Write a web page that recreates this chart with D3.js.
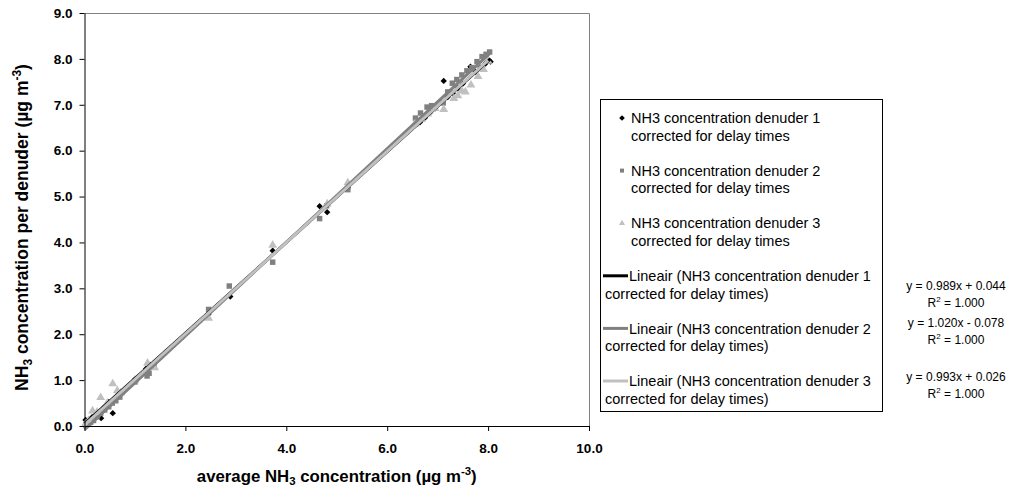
<!DOCTYPE html>
<html>
<head>
<meta charset="utf-8">
<script src="https://cdn.jsdelivr.net/npm/d3@7"></script>
<style>
  html, body { margin: 0; padding: 0; background: #fff; }
  svg { display: block; font-family: Arial, "Liberation Sans", sans-serif; }
</style>
</head>
<body>
<svg id="chart" width="1023" height="488"></svg>
<script>
// Denuder 1 (black diamonds)
const d1X = [0.02,0.05,0.10,0.15,0.22,0.33,0.40,0.48,0.56,0.65,0.72,
             1.00,1.22,1.30,2.46,2.89,3.73,4.66,4.81,5.22,
             6.55,6.65,6.75,6.85,6.95,7.12,7.20,7.30,7.40,7.50,7.65,7.75,7.85,7.95,8.05];
const d1Y = [0.13,0.10,0.12,0.19,0.25,0.17,0.42,0.52,0.28,0.66,0.70,
             1.02,1.25,1.33,2.44,2.82,3.82,4.79,4.66,5.19,
             6.55,6.62,6.72,6.83,6.92,7.52,7.17,7.25,7.36,7.46,7.83,7.72,7.81,7.90,7.94];

// Denuder 2 (grey squares)
const d2X = [0.03,0.08,0.12,0.18,0.25,0.32,0.40,0.48,0.55,0.62,0.70,
             1.00,1.24,1.28,1.38,2.46,2.87,3.73,4.66,4.80,5.22,
             6.56,6.66,6.79,6.88,7.11,7.20,7.29,7.38,7.48,7.58,7.68,7.78,7.88,7.96,8.03];
const d2Y = [0.02,0.05,0.08,0.12,0.20,0.28,0.35,0.42,0.50,0.55,0.63,
             0.96,1.09,1.15,1.30,2.54,3.05,3.57,4.52,4.80,5.15,
             6.71,6.82,6.95,6.98,7.04,7.28,7.47,7.55,7.65,7.74,7.81,7.94,8.05,8.10,8.15];

// Denuder 3 (light grey triangles)
const d3X = [0.02,0.08,0.16,0.25,0.32,0.45,0.56,0.65,0.72,
             1.00,1.25,1.39,2.46,3.73,4.81,5.22,
             6.55,6.68,6.80,6.95,7.12,7.32,7.40,7.48,7.55,7.66,7.80,7.91,8.00];
const d3Y = [0.05,0.12,0.33,0.30,0.62,0.50,0.92,0.77,0.72,
             1.00,1.37,1.27,2.35,3.94,4.84,5.30,
             6.58,6.68,6.80,6.92,6.90,7.14,7.20,7.30,7.28,7.43,7.62,7.77,7.95];

// Linear trendline coefficients (slope, intercept)
const slopes = [0.989, 1.020, 0.993];
const intercepts = [0.044, -0.078, 0.026];
const rSquared = ["1.000", "1.000", "1.000"];

const seriesNames = [
  ["NH3 concentration denuder 1", "corrected for delay times"],
  ["NH3 concentration denuder 2", "corrected for delay times"],
  ["NH3 concentration denuder 3", "corrected for delay times"]
];
const trendNames = [
  ["Lineair (NH3 concentration denuder 1", "corrected for delay times)"],
  ["Lineair (NH3 concentration denuder 2", "corrected for delay times)"],
  ["Lineair (NH3 concentration denuder 3", "corrected for delay times)"]
];
const xTicks = [0, 2, 4, 6, 8, 10];
const yTicks = [0, 1, 2, 3, 4, 5, 6, 7, 8, 9];

const colors = ["#000000", "#808080", "#c0c0c0"];
const shapes = [d3.symbolSquare, d3.symbolSquare, d3.symbolTriangle];
const rotations = [45, 0, 0];
const symbolSizes = [20, 30, 34];

const svg = d3.select("#chart");
const plotL = 84.5, plotR = 589, plotT = 13, plotB = 426;

const x = d3.scaleLinear().domain([0, 10]).range([plotL, plotR]);
const y = d3.scaleLinear().domain([0, 9]).range([plotB, plotT]);

// Plot frame: top and right edges in grey
svg.append("path")
  .attr("d", `M${plotL},${plotT + 0.5}H${plotR + 0.5}V${plotB}`)
  .attr("fill", "none").attr("stroke", "#808080").attr("stroke-width", 1);

// Markers
const seriesData = [
  d1X.map((v, i) => [v, d1Y[i]]),
  d2X.map((v, i) => [v, d2Y[i]]),
  d3X.map((v, i) => [v, d3Y[i]])
];
seriesData.forEach((pts, s) => {
  svg.append("g").selectAll("path").data(pts).join("path")
    .attr("d", d3.symbol().type(shapes[s]).size(symbolSizes[s]))
    .attr("transform", d => `translate(${x(d[0])},${y(d[1])}) rotate(${rotations[s]})`)
    .attr("fill", colors[s]);
});

// Trendlines across each series' x range
seriesData.forEach((pts, s) => {
  const ext = d3.extent(pts, d => d[0]);
  const line = d3.line().x(d => x(d)).y(d => y(slopes[s] * d + intercepts[s]));
  svg.append("path").datum([0, ext[1]])
    .attr("d", line)
    .attr("fill", "none")
    .attr("stroke", colors[s])
    .attr("stroke-width", 3);
});

// Axes
const xAxis = d3.axisBottom(x).tickValues(xTicks).tickFormat(d3.format(".1f"))
  .tickSize(5).tickSizeOuter(0).tickPadding(12);
const yAxis = d3.axisLeft(y).tickValues(yTicks).tickFormat(d3.format(".1f"))
  .tickSize(5).tickSizeOuter(0).tickPadding(7);

const gx = svg.append("g").attr("transform", `translate(0,${plotB})`).call(xAxis);
const gy = svg.append("g").attr("transform", `translate(${plotL},0)`).call(yAxis);
[gx, gy].forEach(g => {
  g.selectAll("path, line").attr("stroke", "#000");
  g.selectAll("text").attr("font-size", 13.5).attr("font-weight", "bold")
    .attr("font-family", "Arial, 'Liberation Sans', sans-serif").attr("fill", "#000");
});

// Axis titles with sub/superscripts
function titleText(sel, parts, size) {
  parts.forEach(([t, kind]) => {
    const ts = sel.append("tspan").text(t);
    if (kind === "sub") ts.attr("font-size", size * 0.68).attr("dy", size * 0.2);
    if (kind === "sup") ts.attr("font-size", size * 0.68).attr("dy", -size * 0.42);
    if (kind === "after-sub") ts.attr("dy", -size * 0.2);
    if (kind === "after-sup") ts.attr("dy", size * 0.42);
  });
}

const xFont = 16.8;
const xt = svg.append("text")
  .attr("x", (plotL + plotR) / 2).attr("y", 482)
  .attr("text-anchor", "middle").attr("font-size", xFont).attr("font-weight", "bold");
titleText(xt, [["average NH"], ["3", "sub"], [" concentration (µg m", "after-sub"],
               ["-3", "sup"], [")", "after-sup"]], xFont);

const yFont = 17.5;
const yt = svg.append("text")
  .attr("transform", `translate(28,${(plotT + plotB) / 2 + 8}) rotate(-90)`)
  .attr("text-anchor", "middle").attr("font-size", yFont).attr("font-weight", "bold");
titleText(yt, [["NH"], ["3", "sub"], [" concentration per denuder (µg m", "after-sub"],
               ["-3", "sup"], [")", "after-sup"]], yFont);

// Legend
const legend = svg.append("g");
legend.append("rect")
  .attr("x", 600.5).attr("y", 99.5).attr("width", 282).attr("height", 312)
  .attr("fill", "#fff").attr("stroke", "#000").attr("stroke-width", 1);

const rowY = i => 118 + i * 52.6;
const legendFont = 14.5;
seriesNames.forEach((lines, i) => {
  legend.append("path")
    .attr("d", d3.symbol().type(shapes[i]).size(16))
    .attr("transform", `translate(622,${rowY(i)}) rotate(${rotations[i]})`)
    .attr("fill", colors[i]);
  lines.forEach((t, k) => {
    legend.append("text").attr("x", 631).attr("y", rowY(i) + k * 17.5)
      .attr("dy", "0.36em").attr("font-size", legendFont).text(t);
  });
});
trendNames.forEach((lines, j) => {
  const i = j + 3;
  legend.append("line")
    .attr("x1", 603).attr("x2", 628).attr("y1", rowY(i)).attr("y2", rowY(i))
    .attr("stroke", colors[j]).attr("stroke-width", 3);
  lines.forEach((t, k) => {
    legend.append("text").attr("x", k === 0 ? 629 : 605).attr("y", rowY(i) + k * 17.5)
      .attr("dy", "0.36em").attr("font-size", legendFont).text(t);
  });
});

// Trendline equations
const eqY = [286, 323, 377];
slopes.forEach((m, i) => {
  const b = intercepts[i];
  const eq = `y = ${m.toFixed(3)}x ${b < 0 ? "-" : "+"} ${Math.abs(b).toFixed(3)}`;
  svg.append("text").attr("x", 956).attr("y", eqY[i]).attr("dy", "0.36em")
    .attr("text-anchor", "middle").attr("font-size", 12).text(eq);
  const r = svg.append("text").attr("x", 956).attr("y", eqY[i] + 16.5).attr("dy", "0.36em")
    .attr("text-anchor", "middle").attr("font-size", 12);
  r.append("tspan").text("R");
  r.append("tspan").text("2").attr("font-size", 8).attr("dy", -5);
  r.append("tspan").text(" = " + rSquared[i]).attr("dy", 5);
});
</script>
</body>
</html>
